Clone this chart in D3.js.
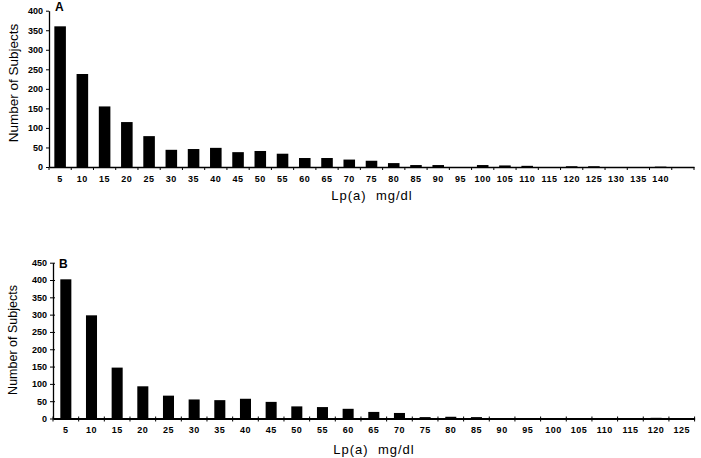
<!DOCTYPE html>
<html><head><meta charset="utf-8">
<script src="https://cdn.jsdelivr.net/npm/d3@7"></script>
<style>
body{margin:0;background:#fff;}
svg text{font-family:"Liberation Sans",Arial,sans-serif;fill:#000;}
</style></head>
<body><svg id="c" width="701" height="458"></svg>
<script>
const catsA = ["5","10","15","20","25","30","35","40","45","50","55","60","65","70","75","80","85","90","95","100","105","110","115","120","125","130","135","140",""];
const valsA = [360,238,155,115,79,44,46,49,38,41,34,23,23,19,16,10,5,5,0,5,4,3,0,2,2,0,0,1,0];
const ticksA = [0,50,100,150,200,250,300,350,400];

const catsB = ["5","10","15","20","25","30","35","40","45","50","55","60","65","70","75","80","85","90","95","100","105","110","115","120","125"];
const valsB = [402,298,147,93,66,55,53,57,48,35,33,28,19,16,4,5,4,1,0,0,1,1,0,2,1];
const ticksB = [0,50,100,150,200,250,300,350,400,450];

const xTitle = "Lp(a)  mg/dl";
const yTitle = "Number of Subjects";

const svg = d3.select("#c");

function panel(cfg){
  const g = svg.append("g");
  const x = d3.scaleBand().domain(cfg.cats).range([cfg.x0, cfg.x1]).paddingInner(cfg.pad).paddingOuter(cfg.pad/2);
  const y = d3.scaleLinear().domain([0, d3.max(cfg.ticks)]).range([cfg.y0, cfg.y1]);
  // bars
  g.selectAll("rect.bar").data(cfg.cats.map((c,i)=>({c, v:cfg.vals[i]}))).join("rect")
    .attr("x", d=>x(d.c)).attr("width", x.bandwidth())
    .attr("y", d=>y(d.v)).attr("height", d=>y(0)-y(d.v)).attr("fill","#000");
  // y axis
  const ya = d3.axisLeft(y).tickValues(cfg.ticks).tickSizeInner(cfg.ytick).tickSizeOuter(0).tickPadding(3);
  const yg = g.append("g").attr("transform",`translate(${cfg.x0},0)`).call(ya);
  yg.select(".domain").attr("stroke","#000").attr("stroke-width",1.3);
  yg.selectAll(".tick line").attr("stroke","#000").attr("x2", -cfg.ytick).attr("x1", cfg.ycross);
  yg.selectAll(".tick text").attr("font-size",9).attr("font-weight","bold").attr("fill","#000");
  // x axis labels
  const xa = d3.axisBottom(x).tickSize(0).tickPadding(cfg.xpad);
  const xg = g.append("g").attr("transform",`translate(0,${cfg.y0})`).call(xa);
  xg.select(".domain").attr("stroke","#000").attr("stroke-width",cfg.xw);
  xg.selectAll(".tick text").attr("font-size",9).attr("font-weight","bold").attr("letter-spacing",0.5).attr("fill","#000");
  // boundary ticks
  const bounds = [cfg.x0].concat(cfg.cats.map(c=>x(c)+x.bandwidth()+x.step()*cfg.pad/2));
  g.selectAll("line.bt").data(bounds).join("line").attr("class","bt")
    .attr("x1",d=>d).attr("x2",d=>d).attr("y1",cfg.y0-cfg.xcross).attr("y2",cfg.y0+cfg.xtick)
    .attr("stroke","#000").attr("stroke-width",1);
  // titles
  g.append("text").attr("x",cfg.tx).attr("y",cfg.ty).attr("text-anchor","middle")
    .attr("font-size",13).attr("letter-spacing",1).style("white-space","pre").text(xTitle);
  g.append("text").attr("transform",`translate(${cfg.yx},${cfg.yy}) rotate(-90)`).attr("text-anchor","middle")
    .attr("font-size",cfg.yfs).text(yTitle);
  g.append("text").attr("x",cfg.lx).attr("y",cfg.ly).attr("font-size",12).attr("font-weight","bold").text(cfg.label);
}

panel({cats:catsA, vals:valsA, ticks:ticksA, x0:49, x1:694, y0:167, y1:10.7, pad:0.48,
  ytick:3, ycross:0, xtick:3, xcross:0, xpad:9, xw:1.5, yfs:13.5,
  tx:372, ty:200, yx:18, yy:83, lx:55, ly:11, label:"A"});
panel({cats:catsB, vals:valsB, ticks:ticksB, x0:53, x1:694.6, y0:418.5, y1:262.7, pad:0.57,
  ytick:3, ycross:2, xtick:3, xcross:2, xpad:8, xw:2, yfs:12.5,
  tx:374, ty:454, yx:17, yy:340, lx:59, ly:268, label:"B"});
</script></body></html>
